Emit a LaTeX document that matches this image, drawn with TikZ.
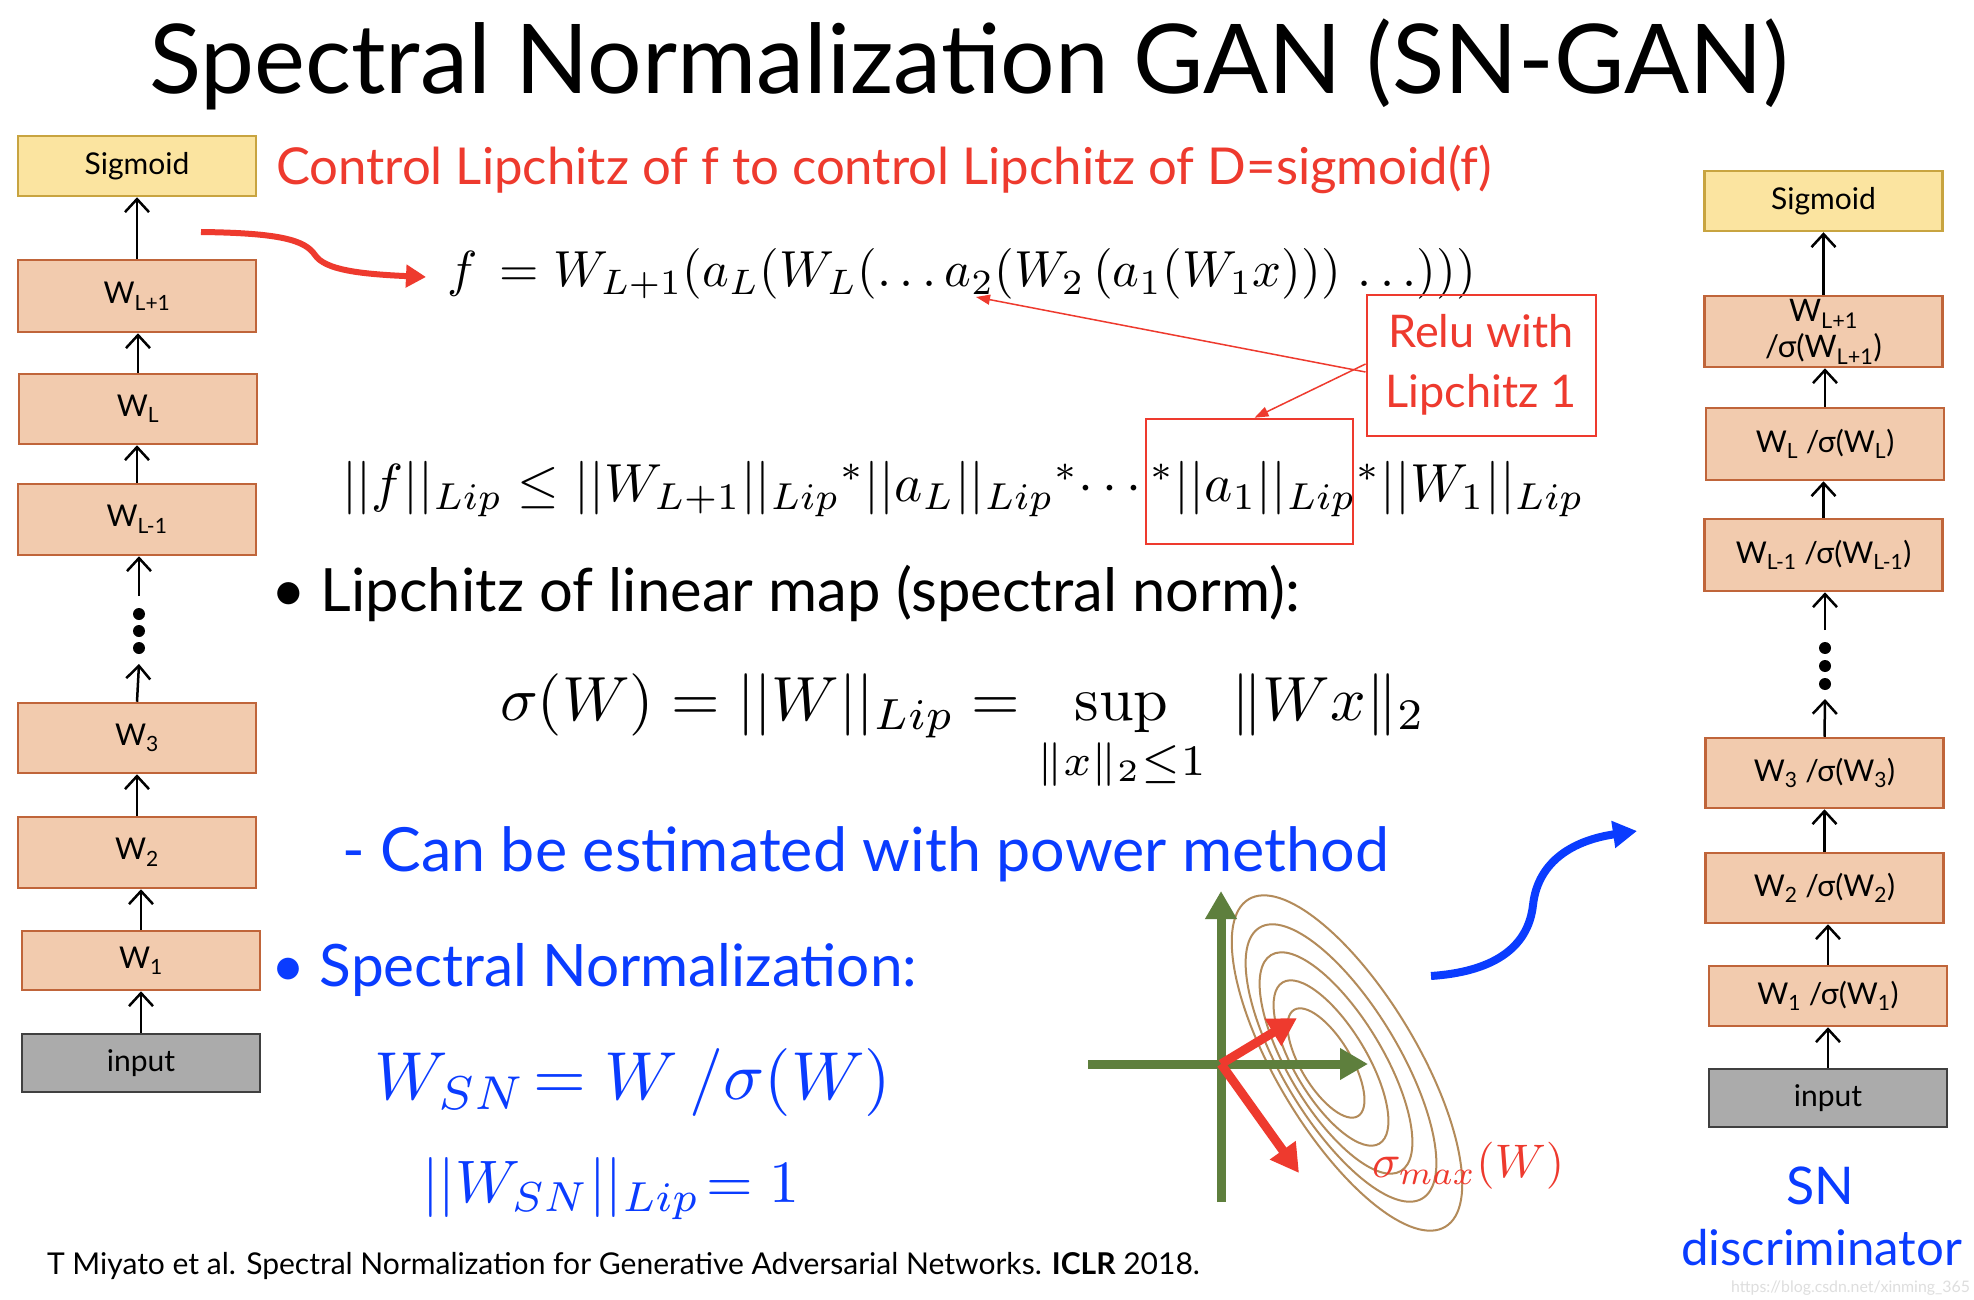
\documentclass[tikz,border=0pt]{standalone}
\usepackage[no-math]{fontspec}
\setmainfont{Lato}
\usetikzlibrary{arrows.meta}
\definecolor{sigfill}{HTML}{FBE4A0}
\definecolor{sigdraw}{HTML}{C8A440}
\definecolor{wfill}{HTML}{F2CBAE}
\definecolor{wdraw}{HTML}{C0653A}
\definecolor{infill}{HTML}{ABABAB}
\definecolor{indraw}{HTML}{404040}
\definecolor{myred}{HTML}{EE3A2E}
\definecolor{myblue}{HTML}{0A3CFF}
\definecolor{mygreen}{HTML}{5E7F3D}
\definecolor{mybrown}{HTML}{B38B5A}
\newcommand\fitw[2]{\resizebox{#1pt}{!}{#2}}
\newcommand\sbs[1]{\textsubscript{#1}}
\begin{document}
\begin{tikzpicture}[x=1pt,y=-1pt,
  txt/.style={anchor=base west, inner sep=0pt, outer sep=0pt},
  layer/.style={draw=wdraw, fill=wfill, line width=2.5pt, minimum width=238pt, inner sep=0pt, align=center, font=\fontsize{30}{34}\selectfont},
  sigbox/.style={layer, draw=sigdraw, fill=sigfill},
  inbox/.style={layer, draw=indraw, fill=infill},
  netarr/.style={line width=2.5pt, -{Straight Barb[length=13pt,width=24pt]}},
  thinred/.style={draw=myred, line width=1.5pt, -{Triangle[length=14pt,width=10pt]}},
  axisarr/.style={draw=mygreen, line width=9pt, -{Triangle[length=28pt,width=30pt]}},
  redarr/.style={draw=myred, line width=9pt, -{Triangle[length=28pt,width=30pt]}},
  contour/.style={draw=mybrown, line width=2pt}
]
\fill[white] (0,0) rectangle (1974,1300);
\useasboundingbox (0,0) rectangle (1974,1300);

% title
\node[txt] (title) at (149,94) {\fitw{1639}{\fontsize{96}{96}\selectfont Spectral Normalization GAN (SN-GAN)}};

% left network
\node[sigbox, minimum height=60pt] (ls) at (137,166) {Sigmoid};
\node[layer, minimum height=72pt] (l7) at (137,296) {W\sbs{L+1}};
\node[layer, minimum height=70pt] (l6) at (138,409) {W\sbs{L}};
\node[layer, minimum height=71pt] (l5) at (137,519.5) {W\sbs{L-1}};
\node[layer, minimum height=70pt] (l3) at (137,738) {W\sbs{3}};
\node[layer, minimum height=71pt] (l2) at (137,852.5) {W\sbs{2}};
\node[layer, minimum height=59pt] (l1) at (141,960.5) {W\sbs{1}};
\node[inbox, minimum height=58pt] (lin) at (141,1063) {input};
\fill (139,614) circle (6pt) (139,631) circle (6pt) (139,648) circle (6pt);
\coordinate (ldtop) at (139,596);
\coordinate (ldbot) at (139,664);
\draw[netarr] (lin.north) -- (l1.north |- l1.south);
\draw[netarr] (l1.north) -- (l1.north |- l2.south);
\draw[netarr] (l2.north) -- (l2.north |- l3.south);
\draw[netarr] (l3.north) -- (ldbot);
\draw[netarr] (ldtop) -- (ldtop |- l5.south);
\draw[netarr] (l5.north) -- (l5.north |- l6.south);
\draw[netarr] (l6.north) -- (l6.north |- l7.south);
\draw[netarr] (l7.north) -- (l7.north |- ls.south);

% right network
\node[sigbox, minimum height=60pt] (rs) at (1823.5,201) {Sigmoid};
\node[layer, minimum height=71pt, font=\fontsize{31}{36}\selectfont] (r7) at (1823.5,331.5) {W\sbs{L+1}\\/σ(W\sbs{L+1})};
\node[layer, minimum height=72pt] (r6) at (1825,444) {W\sbs{L} /σ(W\sbs{L})};
\node[layer, minimum height=72pt] (r5) at (1823.5,555) {W\sbs{L-1} /σ(W\sbs{L-1})};
\node[layer, minimum height=70pt] (r3) at (1824.5,773) {W\sbs{3} /σ(W\sbs{3})};
\node[layer, minimum height=70pt] (r2) at (1824.5,888) {W\sbs{2} /σ(W\sbs{2})};
\node[layer, minimum height=60pt] (r1) at (1828,996) {W\sbs{1} /σ(W\sbs{1})};
\node[inbox, minimum height=58pt] (rin) at (1828,1098) {input};
\fill (1825,648) circle (6pt) (1825,666) circle (6pt) (1825,684) circle (6pt);
\coordinate (rdtop) at (1825,630);
\coordinate (rdbot) at (1825,699);
\draw[netarr] (rin.north) -- (r1.north |- r1.south);
\draw[netarr] (r1.north) -- (r1.north |- r2.south);
\draw[netarr] (r2.north) -- (r2.north |- r3.south);
\draw[netarr] (r3.north) -- (rdbot);
\draw[netarr] (rdtop) -- (rdtop |- r5.south);
\draw[netarr] (r5.north) -- (r5.north |- r6.south);
\draw[netarr] (r6.north) -- (r6.north |- r7.south);
\draw[netarr] (r7.north) -- (r7.north |- rs.south);
\node[anchor=base, inner sep=0pt, text=myblue, font=\fontsize{52}{52}\selectfont] (sn) at (1820,1204) {SN};
\node[txt, text=myblue] (disc) at (1681,1265) {\fitw{281}{\fontsize{52}{52}\selectfont discriminator}};
\node[txt, text=black!13] (wm) at (1731,1292) {\fitw{239}{\fontsize{17}{17}\selectfont https://blog.csdn.net/xinming\_365}};

% red heading and curve
\node[txt, text=myred] (ctrl) at (276,185) {\fitw{1216}{\fontsize{60}{60}\selectfont Control Lipchitz of f to control Lipchitz of D=sigmoid(f)}};
\coordinate (rcs) at (201,232);
\coordinate (rce) at (426,277);
\draw[myred, line width=6pt, -{Triangle[length=20pt,width=22pt]}] (rcs) .. controls (280,233) and (305,240) .. (315,255) .. controls (325,270) and (360,274) .. (rce);

% f formula
\node[txt] (fform) at (447,287) {\fitw{1029}{$f\,=W_{L+1}(a_L(W_L(\ldots a_2(W_2\,(a_1(W_1x)))\,\ldots)))$}};

% relu box
\node[draw=myred, line width=2pt, minimum width=229pt, minimum height=141pt, inner sep=0pt, text=myred, align=center, font=\fontsize{45}{60}\selectfont] (relu) at (1481,365) {Relu with\\Lipchitz 1};
\node[draw=myred, line width=2.5pt, minimum width=207pt, minimum height=125pt, inner sep=0pt] (rbox) at (1249.5,481.5) {};
\coordinate (a2tip) at (976,297);
\draw[thinred] ([yshift=-7pt]relu.west) -- (a2tip);
\draw[thinred] ([yshift=1pt]relu.west) -- ([xshift=5pt]rbox.north);

% Lipschitz inequality
\node[txt] (lipineq) at (342,501) {\fitw{1242}{$||f||_{Lip}\le||W_{L+1}||_{Lip}{}^{*}||a_L||_{Lip}{}^{*}\!\cdots{}^{*}||a_1||_{Lip}{}^{*}||W_1||_{Lip}$}};

% bullet 1
\node[txt] (b1) at (271,611) {\fitw{1029}{\fontsize{67}{67}\selectfont • Lipchitz of linear map (spectral norm):}};

% sigma formula
\node[txt] (sigf) at (500,720) {\fitw{925}{$\displaystyle\sigma(W) = ||W||_{Lip} = \sup_{\|x\|_2\le1}\ \|Wx\|_2$}};

% blue lines
\node[txt, text=myblue] (pm) at (342,871) {\fitw{1047}{\fontsize{65}{65}\selectfont - Can be estimated with power method}};
\node[txt, text=myblue] (b2) at (271,986) {\fitw{646}{\fontsize{65}{65}\selectfont • Spectral Normalization:}};
\node[txt, text=myblue] (wsn) at (374,1099) {\fitw{517}{$W_{SN}\!= W\,/\sigma(W)$}};
\node[txt, text=myblue] (wsnl) at (422,1202) {\fitw{378}{$||W_{SN}||_{Lip}\!= 1$}};

% citation
\node[txt] (cite) at (47,1274) {\fitw{1153}{\fontsize{34}{34}\selectfont T Miyato et al. Spectral Normalization for Generative Adversarial Networks. \textbf{ICLR} 2018.}};

% ellipses
\foreach \cx/\a/\b in {1326/62/25, 1331/94/36, 1336/126/47, 1341/158/58, 1347/191/70}{
  \draw[contour, rotate around={-59:(\cx,1063)}] (\cx,1063) ellipse [x radius=\a, y radius=\b];
}
% axes
\coordinate (orig) at (1221,1064);
\coordinate (vbot) at (1221,1202);
\coordinate (vtop) at (1221,891);
\coordinate (hleft) at (1088,1064);
\coordinate (hright) at (1368,1064);
\draw[axisarr] (vbot) -- (vtop);
\draw[axisarr] (hleft) -- (hright);
\coordinate (r1tip) at (1297,1018);
\coordinate (r2tip) at (1299,1173);
\draw[redarr] (orig) -- (r1tip);
\draw[redarr] (orig) -- (r2tip);
\node[txt, text=myred] (smax) at (1372,1177) {\fitw{192}{$\sigma_{max}(W)$}};

% blue curve
\coordinate (bcs) at (1431,976);
\coordinate (bce) at (1637,831);
\draw[myblue, line width=8pt, -{Triangle[length=24pt,width=26pt]}] (bcs) .. controls (1490,972) and (1528,950) .. (1533,905) .. controls (1538,860) and (1575,840) .. (bce);
\end{tikzpicture}
\end{document}
